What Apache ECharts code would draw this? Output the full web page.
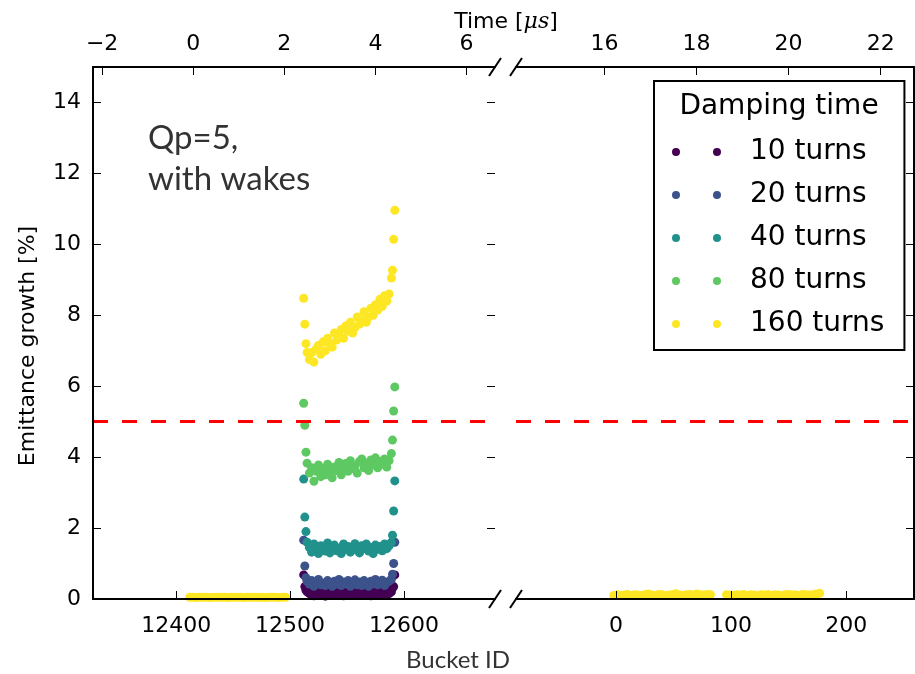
<!DOCTYPE html>
<html><head><meta charset="utf-8">
<script src="https://cdn.jsdelivr.net/npm/echarts@6/dist/echarts.min.js"></script>
<style>html,body{margin:0;padding:0;background:#fff}#c{width:915px;height:674px}</style>
</head><body><div id="c"></div>
<script>
// ---------------- data ----------------
const seriesNames = ['10 turns', '20 turns', '40 turns', '80 turns', '160 turns'];
const seriesColors = ['#440154', '#3b528b', '#21918c', '#5ec962', '#fde725'];

const batchBuckets = [12512,12513,12514,12515,
  12517,12519,12521,12523,12525,12527,12529,12531,12533,12535,
  12537,12539,12541,12543,12545,12547,12549,12551,12553,12555,
  12557,12559,12561,12563,12565,12567,12569,12571,12573,12575,
  12577,12579,12581,12583,12585,12587,
  12589,12590,12591,12592];

const growth10 = [0.68,0.35,0.25,0.2,
  0.15,0.2,0.09,0.17,0.22,0.12,0.18,0.08,0.2,0.14,
  0.1,0.21,0.16,0.12,0.22,0.09,0.18,0.14,0.2,0.11,
  0.17,0.22,0.1,0.15,0.2,0.13,0.18,0.09,0.21,0.15,
  0.12,0.2,0.16,0.1,0.19,0.15,
  0.2,0.3,0.35,0.68];
const growth20 = [1.66,0.93,0.6,0.5,
  0.42,0.52,0.36,0.48,0.55,0.4,0.45,0.38,0.52,0.46,
  0.36,0.5,0.42,0.55,0.38,0.48,0.44,0.52,0.36,0.46,
  0.54,0.4,0.48,0.38,0.52,0.45,0.36,0.5,0.42,0.55,
  0.4,0.47,0.53,0.38,0.46,0.5,
  0.55,0.7,1.0,1.6];
const growth40 = [3.38,2.31,1.9,1.6,
  1.45,1.32,1.55,1.4,1.28,1.5,1.42,1.35,1.58,1.3,
  1.46,1.52,1.36,1.42,1.28,1.55,1.4,1.48,1.32,1.45,
  1.56,1.38,1.3,1.5,1.42,1.55,1.35,1.45,1.28,1.52,
  1.4,1.48,1.36,1.55,1.42,1.5,
  1.6,1.8,2.48,3.33];
const growth80 = [5.52,4.9,4.14,3.83,
  3.55,3.7,3.32,3.6,3.78,3.45,3.65,3.5,3.8,3.58,
  3.42,3.72,3.62,3.85,3.5,3.7,3.82,3.6,3.9,3.68,
  3.75,3.55,3.88,3.95,3.7,3.82,3.62,3.92,3.78,3.98,
  3.7,3.88,3.8,3.95,3.72,3.9,
  4.1,4.48,5.3,5.98];
const growth160 = [8.48,7.75,7.2,6.95,
  6.75,6.95,6.68,7.05,7.15,6.9,7.25,7.0,7.35,7.2,
  7.1,7.5,7.3,7.45,7.6,7.35,7.7,7.55,7.8,7.5,
  7.65,7.95,7.75,7.85,8.1,7.8,7.95,8.2,8.0,8.3,
  8.15,8.45,8.25,8.55,8.4,8.6,
  9.05,9.27,10.14,10.96];

const leftRunBuckets = [12412,12415,12418,12421,12424,12427,12430,12433,12436,12439,12442,12445,12448,12451,12454,
  12457,12460,12463,12466,12469,12472,12475,12478,12481,12484,12487,12490,12493,12496];
const leftRunGrowth160 = [0.05,0.05,0.04,0.05,0.05,0.05,0.04,0.05,0.05,0.05,0.05,0.04,0.05,0.05,0.05,
  0.05,0.04,0.05,0.05,0.05,0.05,0.05,0.04,0.05,0.05,0.05,0.04,0.05,0.05];

const rightRunBuckets = [-2,1,4,7,10,13,16,19,22,25,28,31,34,37,40,43,46,49,52,55,58,61,64,67,70,73,76,79,82,
  96,99,102,105,108,111,114,117,120,123,126,129,132,135,138,141,144,147,150,153,156,159,162,165,168,171,174,177];
const rightRunGrowth160 = [0.1,0.12,0.1,0.11,0.13,0.1,0.12,0.11,0.1,0.12,0.14,0.11,0.1,0.13,0.12,0.1,0.11,0.12,0.15,0.11,0.1,0.12,0.13,0.11,0.14,0.12,0.11,0.13,0.12,
  0.12,0.11,0.1,0.12,0.11,0.13,0.1,0.12,0.11,0.1,0.12,0.11,0.13,0.1,0.12,0.11,0.1,0.12,0.13,0.11,0.12,0.1,0.13,0.12,0.11,0.12,0.14,0.16];

const thresholdLevel = [5];
const yTicks = [0, 2, 4, 6, 8, 10, 12, 14];
const yRange = [0, 15];
const leftBucketTicks = [12400, 12500, 12600];
const rightBucketTicks = [0, 100, 200];
const leftTimeTicks = [-2, 0, 2, 4, 6];
const rightTimeTicks = [16, 18, 20, 22];
const leftBucketRange = [12327, 12680];
const rightBucketRange = [-87, 259];
const bucketSpacingUs = 0.025;
const leftTimeZeroBucket = 12415;
const rightTimeZeroBucket = -650;

// ---------------- layout ----------------
const G0 = {left: 93, top: 67, width: 402, height: 532};
const G1 = {left: 516, top: 67, width: 398, height: 532};
const FONT = 'DejaVu Sans';

const pairs = (xs, ys) => xs.map((x, i) => [x, ys[i]]);
const toTime = (range, zero) => range.map(b => (b - zero) * bucketSpacingUs);
const minusFmt = v => String(v).replace('-', '\u2212');

const tickStyle = {show: true, inside: true, length: 8, lineStyle: {color: '#000', width: 1}};
const lineStyle = {show: true, onZero: false, lineStyle: {color: '#000', width: 2}};
const labelStyle = {fontSize: 22, fontFamily: FONT, color: '#000', formatter: minusFmt};

function xAxis(gridIndex, position, range, ticks, margin) {
  return {
    type: 'value', gridIndex, position, min: range[0], max: range[1], z: 5,
    axisLine: lineStyle,
    axisTick: Object.assign({}, tickStyle, {customValues: ticks}),
    axisLabel: Object.assign({}, labelStyle, {customValues: ticks, margin}),
    splitLine: {show: false}
  };
}
function yAxis(gridIndex, position, showLine, showLabels) {
  return {
    type: 'value', gridIndex, position, min: yRange[0], max: yRange[1], z: 5,
    axisLine: Object.assign({}, lineStyle, {show: showLine}),
    axisTick: Object.assign({}, tickStyle, {customValues: yTicks}),
    axisLabel: Object.assign({}, labelStyle, {show: showLabels, customValues: yTicks, margin: 12}),
    splitLine: {show: false}
  };
}

function scatter(name, color, xIdx, yIdx, data, extra) {
  return Object.assign({
    type: 'scatter', name, xAxisIndex: xIdx, yAxisIndex: yIdx, data,
    symbol: 'circle', symbolSize: 9,
    itemStyle: {color, opacity: 1},
    emphasis: {disabled: true}, silent: true
  }, extra || {});
}

const thresholdMark = {
  silent: true, symbol: ['none', 'none'], label: {show: false},
  lineStyle: {color: '#ff0000', width: 3, type: [15, 14]},
  data: [{yAxis: thresholdLevel[0]}]
};

const series = [
  scatter(seriesNames[0], seriesColors[0], 0, 0, pairs(batchBuckets, growth10), {markLine: thresholdMark}),
  scatter(seriesNames[1], seriesColors[1], 0, 0, pairs(batchBuckets, growth20)),
  scatter(seriesNames[2], seriesColors[2], 0, 0, pairs(batchBuckets, growth40)),
  scatter(seriesNames[3], seriesColors[3], 0, 0, pairs(batchBuckets, growth80)),
  scatter(seriesNames[4], seriesColors[4], 0, 0,
    pairs(batchBuckets, growth160).concat(pairs(leftRunBuckets, leftRunGrowth160))),
  scatter(seriesNames[4], seriesColors[4], 2, 2, pairs(rightRunBuckets, rightRunGrowth160), {markLine: thresholdMark})
];

function slash(cx, cy) {
  return {type: 'line', shape: {x1: cx - 6, y1: cy + 9, x2: cx + 6, y2: cy - 9},
    style: {stroke: '#000', lineWidth: 2}, z: 10};
}
const gapL = G0.left + G0.width, gapR = G1.left;
const yTop = G0.top, yBot = G0.top + G0.height;

const option = {
  animation: false,
  backgroundColor: '#fff',
  grid: [Object.assign({}, G0), Object.assign({}, G1)],
  xAxis: [
    xAxis(0, 'bottom', leftBucketRange, leftBucketTicks, 16),
    xAxis(0, 'top', toTime(leftBucketRange, leftTimeZeroBucket), leftTimeTicks, 12),
    xAxis(1, 'bottom', rightBucketRange, rightBucketTicks, 16),
    xAxis(1, 'top', toTime(rightBucketRange, rightTimeZeroBucket), rightTimeTicks, 12)
  ],
  yAxis: [
    yAxis(0, 'left', true, true),
    yAxis(0, 'right', false, false),
    yAxis(1, 'right', true, false)
  ],
  legend: {
    data: seriesNames,
    orient: 'vertical', left: 654, top: 81,
    padding: [56, 20, 11, 18],
    itemWidth: 49, itemHeight: 8, itemGap: 13,
    icon: 'path://M0,4A4,4 0 1,1 8,4A4,4 0 1,1 0,4ZM41,4A4,4 0 1,1 49,4A4,4 0 1,1 41,4Z',
    borderColor: '#000', borderWidth: 2, borderRadius: 0,
    backgroundColor: '#fff',
    selectedMode: false,
    textStyle: {fontSize: 28, fontFamily: FONT, color: '#000', lineHeight: 30, padding: [0, 0, 0, 24]}
  },
  graphic: [
    slash(gapL, yTop), slash(gapR, yTop), slash(gapL, yBot), slash(gapR, yBot),
    {type: 'text', z: 20,
      style: {text: 'Damping time', x: 779, y: 107, fontSize: 28, fontFamily: FONT, fill: '#000',
        align: 'center', verticalAlign: 'middle'}},
    {type: 'text', z: 20, style: {text: 'Qp=5,\nwith wakes', x: 148, y: 118, fontSize: 33, lineHeight: 41,
      fontFamily: 'Lato', fill: '#333'}},
    {type: 'text', z: 20, style: {x: 506, y: 22, align: 'center', verticalAlign: 'middle',
      rich: {a: {fontSize: 22, fontFamily: FONT, fill: '#000'}, b: {fontSize: 22, fontFamily: 'DejaVu Serif', fontStyle: 'italic', fill: '#000'}},
      text: '{a|Time [}{b|\u03bcs}{a|]}'}},
    {type: 'text', z: 20, style: {text: 'Bucket ID', x: 458, y: 660, align: 'center', verticalAlign: 'middle',
      fontSize: 24, fontFamily: 'Lato', fill: '#333'}},
    {type: 'text', z: 20, x: 28, y: 346, rotation: Math.PI / 2,
      style: {text: 'Emittance growth [%]', x: 0, y: 0, align: 'center', verticalAlign: 'middle',
        fontSize: 22, fontFamily: FONT, fill: '#000'}}
  ],
  series
};

const chart = echarts.init(document.getElementById('c'), null, {renderer: 'canvas', width: 915, height: 674});
chart.setOption(option);
</script>
</body></html>
